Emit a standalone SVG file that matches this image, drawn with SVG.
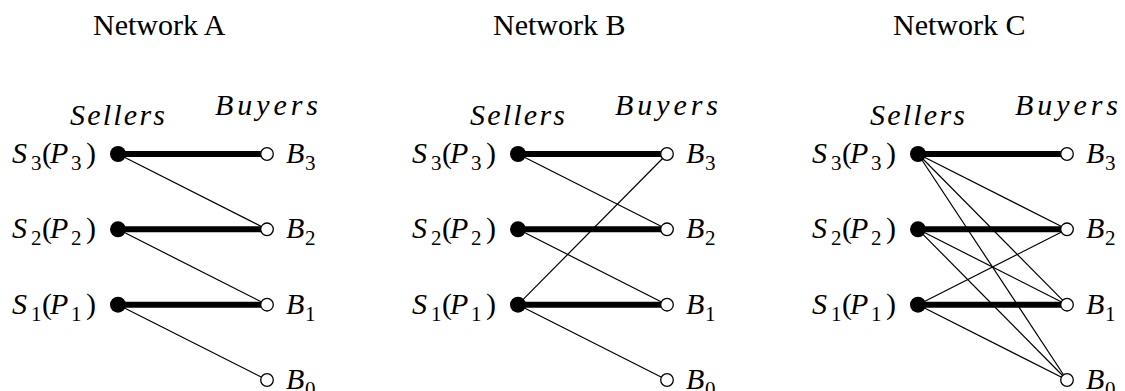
<svg xmlns="http://www.w3.org/2000/svg" width="1125" height="391" viewBox="0 0 1125 391" font-family="'Liberation Serif', 'DejaVu Serif', serif">
<style>
text{font-family:'Liberation Serif','DejaVu Serif',serif;font-size:30px;fill:#000}
.i{font-style:italic}
.sub{font-size:21px;font-style:normal}
.thick{stroke:#000;stroke-width:6;fill:none}
.thin{stroke:#000;stroke-width:1.2;fill:none}
.sd{fill:#000}
.bd{fill:#fff;stroke:#000;stroke-width:1.3}
</style>

<!-- Network A -->
<g id="networkA">
  <text id="titleA" x="93" y="35">Network A</text>
  <text class="i" x="70" y="125" textLength="95" lengthAdjust="spacing">Sellers</text>
  <text class="i" x="215" y="115" textLength="103" lengthAdjust="spacing">Buyers</text>
  <g id="connA">
    <line class="thick" x1="118" y1="154" x2="267" y2="154"/>
    <line class="thick" x1="118" y1="229.3" x2="267" y2="229.3"/>
    <line class="thick" x1="118" y1="304.7" x2="267" y2="304.7"/>
    <line class="thin" x1="118" y1="154" x2="267" y2="229.3"/>
    <line class="thin" x1="118" y1="229.3" x2="267" y2="304.7"/>
    <line class="thin" x1="118" y1="304.7" x2="267" y2="380"/>
  </g>
  <g id="A_S3"><circle class="sd" cx="118" cy="154" r="8"/><text><tspan class="i" x="12" y="163">S</tspan><tspan class="sub" x="31" y="170">3</tspan><tspan x="42" y="163">(</tspan><tspan class="i" x="50" y="163">P</tspan><tspan class="sub" x="71" y="170">3</tspan><tspan x="86" y="163">)</tspan></text></g>
  <g id="A_S2"><circle class="sd" cx="118" cy="229.3" r="8"/><text><tspan class="i" x="12" y="238.3">S</tspan><tspan class="sub" x="31" y="245.3">2</tspan><tspan x="42" y="238.3">(</tspan><tspan class="i" x="50" y="238.3">P</tspan><tspan class="sub" x="71" y="245.3">2</tspan><tspan x="86" y="238.3">)</tspan></text></g>
  <g id="A_S1"><circle class="sd" cx="118" cy="304.7" r="8"/><text><tspan class="i" x="12" y="313.7">S</tspan><tspan class="sub" x="31" y="320.7">1</tspan><tspan x="42" y="313.7">(</tspan><tspan class="i" x="50" y="313.7">P</tspan><tspan class="sub" x="71" y="320.7">1</tspan><tspan x="86" y="313.7">)</tspan></text></g>
  <g id="A_B3"><circle class="bd" cx="267" cy="154" r="6.3"/><text><tspan class="i" x="286" y="163">B</tspan><tspan class="sub" x="305" y="170">3</tspan></text></g>
  <g id="A_B2"><circle class="bd" cx="267" cy="229.3" r="6.3"/><text><tspan class="i" x="286" y="238.3">B</tspan><tspan class="sub" x="305" y="245.3">2</tspan></text></g>
  <g id="A_B1"><circle class="bd" cx="267" cy="304.7" r="6.3"/><text><tspan class="i" x="286" y="313.7">B</tspan><tspan class="sub" x="305" y="320.7">1</tspan></text></g>
  <g id="A_B0"><circle class="bd" cx="267" cy="380" r="6.3"/><text><tspan class="i" x="286" y="389">B</tspan><tspan class="sub" x="305" y="396">0</tspan></text></g>
</g>

<!-- Network B -->
<g id="networkB" transform="translate(400,0)">
  <text id="titleB" x="93" y="35">Network B</text>
  <text class="i" x="70" y="125" textLength="95" lengthAdjust="spacing">Sellers</text>
  <text class="i" x="215" y="115" textLength="103" lengthAdjust="spacing">Buyers</text>
  <g id="connB">
    <line class="thick" x1="118" y1="154" x2="267" y2="154"/>
    <line class="thick" x1="118" y1="229.3" x2="267" y2="229.3"/>
    <line class="thick" x1="118" y1="304.7" x2="267" y2="304.7"/>
    <line class="thin" x1="118" y1="154" x2="267" y2="229.3"/>
    <line class="thin" x1="118" y1="229.3" x2="267" y2="304.7"/>
    <line class="thin" x1="118" y1="304.7" x2="267" y2="380"/>
    <line class="thin" x1="118" y1="304.7" x2="267" y2="154"/>
  </g>
  <g id="B_S3"><circle class="sd" cx="118" cy="154" r="8"/><text><tspan class="i" x="12" y="163">S</tspan><tspan class="sub" x="31" y="170">3</tspan><tspan x="42" y="163">(</tspan><tspan class="i" x="50" y="163">P</tspan><tspan class="sub" x="71" y="170">3</tspan><tspan x="86" y="163">)</tspan></text></g>
  <g id="B_S2"><circle class="sd" cx="118" cy="229.3" r="8"/><text><tspan class="i" x="12" y="238.3">S</tspan><tspan class="sub" x="31" y="245.3">2</tspan><tspan x="42" y="238.3">(</tspan><tspan class="i" x="50" y="238.3">P</tspan><tspan class="sub" x="71" y="245.3">2</tspan><tspan x="86" y="238.3">)</tspan></text></g>
  <g id="B_S1"><circle class="sd" cx="118" cy="304.7" r="8"/><text><tspan class="i" x="12" y="313.7">S</tspan><tspan class="sub" x="31" y="320.7">1</tspan><tspan x="42" y="313.7">(</tspan><tspan class="i" x="50" y="313.7">P</tspan><tspan class="sub" x="71" y="320.7">1</tspan><tspan x="86" y="313.7">)</tspan></text></g>
  <g id="B_B3"><circle class="bd" cx="267" cy="154" r="6.3"/><text><tspan class="i" x="286" y="163">B</tspan><tspan class="sub" x="305" y="170">3</tspan></text></g>
  <g id="B_B2"><circle class="bd" cx="267" cy="229.3" r="6.3"/><text><tspan class="i" x="286" y="238.3">B</tspan><tspan class="sub" x="305" y="245.3">2</tspan></text></g>
  <g id="B_B1"><circle class="bd" cx="267" cy="304.7" r="6.3"/><text><tspan class="i" x="286" y="313.7">B</tspan><tspan class="sub" x="305" y="320.7">1</tspan></text></g>
  <g id="B_B0"><circle class="bd" cx="267" cy="380" r="6.3"/><text><tspan class="i" x="286" y="389">B</tspan><tspan class="sub" x="305" y="396">0</tspan></text></g>
</g>

<!-- Network C -->
<g id="networkC" transform="translate(800,0)">
  <text id="titleC" x="93" y="35">Network C</text>
  <text class="i" x="70" y="125" textLength="95" lengthAdjust="spacing">Sellers</text>
  <text class="i" x="215" y="115" textLength="103" lengthAdjust="spacing">Buyers</text>
  <g id="connC">
    <line class="thick" x1="118" y1="154" x2="267" y2="154"/>
    <line class="thick" x1="118" y1="229.3" x2="267" y2="229.3"/>
    <line class="thick" x1="118" y1="304.7" x2="267" y2="304.7"/>
    <line class="thin" x1="118" y1="154" x2="267" y2="229.3"/>
    <line class="thin" x1="118" y1="154" x2="267" y2="304.7"/>
    <line class="thin" x1="118" y1="154" x2="267" y2="380"/>
    <line class="thin" x1="118" y1="229.3" x2="267" y2="304.7"/>
    <line class="thin" x1="118" y1="229.3" x2="267" y2="380"/>
    <line class="thin" x1="118" y1="304.7" x2="267" y2="229.3"/>
    <line class="thin" x1="118" y1="304.7" x2="267" y2="380"/>
  </g>
  <g id="C_S3"><circle class="sd" cx="118" cy="154" r="8"/><text><tspan class="i" x="12" y="163">S</tspan><tspan class="sub" x="31" y="170">3</tspan><tspan x="42" y="163">(</tspan><tspan class="i" x="50" y="163">P</tspan><tspan class="sub" x="71" y="170">3</tspan><tspan x="86" y="163">)</tspan></text></g>
  <g id="C_S2"><circle class="sd" cx="118" cy="229.3" r="8"/><text><tspan class="i" x="12" y="238.3">S</tspan><tspan class="sub" x="31" y="245.3">2</tspan><tspan x="42" y="238.3">(</tspan><tspan class="i" x="50" y="238.3">P</tspan><tspan class="sub" x="71" y="245.3">2</tspan><tspan x="86" y="238.3">)</tspan></text></g>
  <g id="C_S1"><circle class="sd" cx="118" cy="304.7" r="8"/><text><tspan class="i" x="12" y="313.7">S</tspan><tspan class="sub" x="31" y="320.7">1</tspan><tspan x="42" y="313.7">(</tspan><tspan class="i" x="50" y="313.7">P</tspan><tspan class="sub" x="71" y="320.7">1</tspan><tspan x="86" y="313.7">)</tspan></text></g>
  <g id="C_B3"><circle class="bd" cx="267" cy="154" r="6.3"/><text><tspan class="i" x="286" y="163">B</tspan><tspan class="sub" x="305" y="170">3</tspan></text></g>
  <g id="C_B2"><circle class="bd" cx="267" cy="229.3" r="6.3"/><text><tspan class="i" x="286" y="238.3">B</tspan><tspan class="sub" x="305" y="245.3">2</tspan></text></g>
  <g id="C_B1"><circle class="bd" cx="267" cy="304.7" r="6.3"/><text><tspan class="i" x="286" y="313.7">B</tspan><tspan class="sub" x="305" y="320.7">1</tspan></text></g>
  <g id="C_B0"><circle class="bd" cx="267" cy="380" r="6.3"/><text><tspan class="i" x="286" y="389">B</tspan><tspan class="sub" x="305" y="396">0</tspan></text></g>
</g>
</svg>
